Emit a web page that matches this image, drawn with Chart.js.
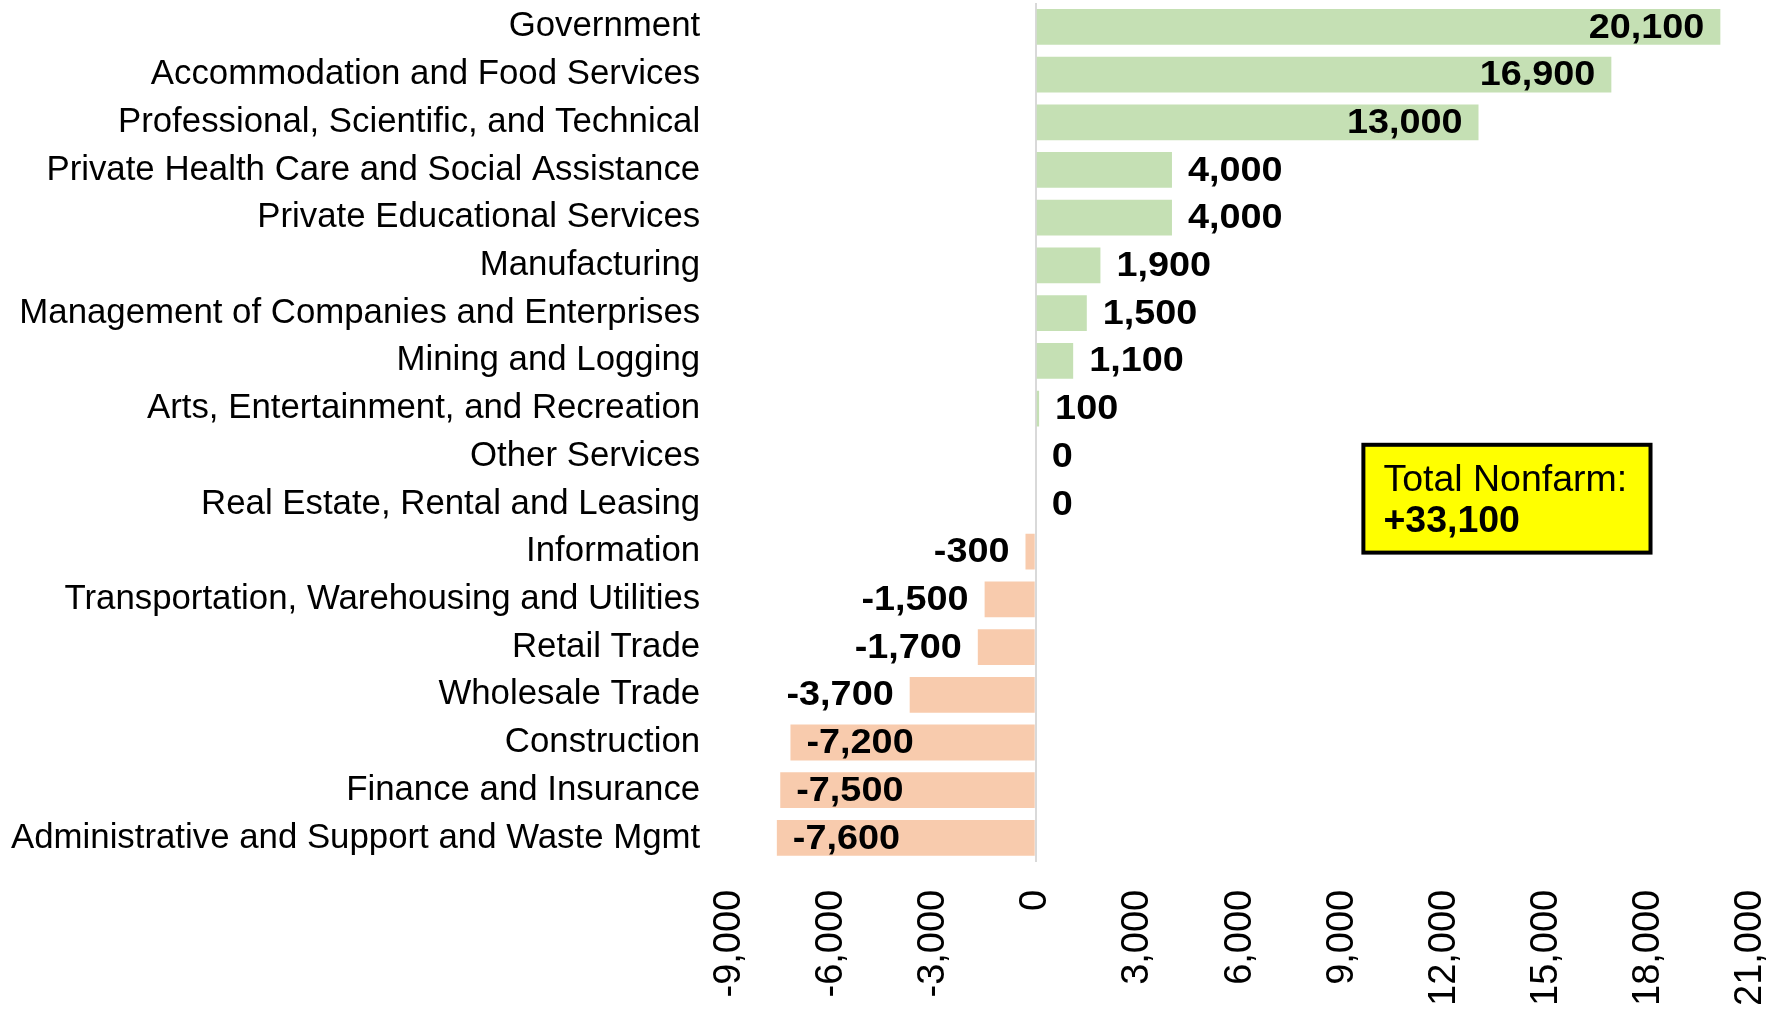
<!DOCTYPE html>
<html>
<head>
<meta charset="utf-8">
<script src="https://cdn.jsdelivr.net/npm/chart.js@4.4.1/dist/chart.umd.min.js"></script>
<style>
  html, body { margin: 0; padding: 0; background: #fff; }
  #wrap { width: 1781px; height: 1016px; }
</style>
</head>
<body>
<div id="wrap"><canvas id="jobsChart" width="1781" height="1016"></canvas></div>
<script>
// Data
const industries = [
    'Government',
    'Accommodation and Food Services',
    'Professional, Scientific, and Technical',
    'Private Health Care and Social Assistance',
    'Private Educational Services',
    'Manufacturing',
    'Management of Companies and Enterprises',
    'Mining and Logging',
    'Arts, Entertainment, and Recreation',
    'Other Services',
    'Real Estate, Rental and Leasing',
    'Information',
    'Transportation, Warehousing and Utilities',
    'Retail Trade',
    'Wholesale Trade',
    'Construction',
    'Finance and Insurance',
    'Administrative and Support and Waste Mgmt'
];
const jobChange = [20100, 16900, 13000, 4000, 4000, 1900, 1500, 1100, 100, 0, 0,
    -300, -1500, -1700, -3700, -7200, -7500, -7600];
const xTicks = [-9000, -6000, -3000, 0, 3000, 6000, 9000, 12000, 15000, 18000, 21000];
const totalLabel = ['Total Nonfarm:', '+33,100'];

const FONT = "'Liberation Sans', Arial, sans-serif";
const fmt = v => v.toLocaleString('en-US');

// value labels at bar ends, inside only when the bar is long enough
const barLabels = {
    id: 'barLabels',
    afterDatasetsDraw(chart) {
        const ctx = chart.ctx;
        const meta = chart.getDatasetMeta(0);
        const stretch = 1.08;
        const pad = 16;
        ctx.save();
        ctx.font = 'bold 35px ' + FONT;
        ctx.fillStyle = '#000';
        ctx.textBaseline = 'middle';
        meta.data.forEach((bar, i) => {
            const v = jobChange[i];
            const txt = fmt(v);
            const w = ctx.measureText(txt).width * stretch;
            const len = Math.abs(bar.x - bar.base);
            const inside = len >= w + 4 * pad;
            let left;
            if (v >= 0) {
                left = inside ? bar.x - pad - w : bar.x + pad;
            } else {
                left = inside ? bar.x + pad : bar.x - pad - w;
            }
            ctx.save();
            ctx.translate(left, bar.y + 1);
            ctx.scale(stretch, 1);
            ctx.textAlign = 'left';
            ctx.fillText(txt, 0, 0);
            ctx.restore();
        });
        ctx.restore();
    }
};

// yellow total box
const totalBox = {
    id: 'totalBox',
    afterDraw(chart) {
        const ctx = chart.ctx;
        const xs = chart.scales.x, ys = chart.scales.y;
        const x0 = xs.getPixelForValue(9620), x1 = xs.getPixelForValue(18050);
        const y0 = ys.getPixelForValue(8.76), y1 = ys.getPixelForValue(11.02);
        ctx.save();
        ctx.fillStyle = '#FFFF00';
        ctx.fillRect(x0, y0, x1 - x0, y1 - y0);
        ctx.lineWidth = 4;
        ctx.strokeStyle = '#000';
        ctx.strokeRect(x0, y0, x1 - x0, y1 - y0);
        ctx.fillStyle = '#000';
        ctx.textBaseline = 'alphabetic';
        ctx.font = '37.5px ' + FONT;
        ctx.fillText(totalLabel[0], x0 + 20, y0 + 46);
        ctx.font = 'bold 37.5px ' + FONT;
        ctx.fillText(totalLabel[1], x0 + 20, y0 + 87);
        ctx.restore();
    }
};

new Chart(document.getElementById('jobsChart'), {
    type: 'bar',
    data: {
        labels: industries,
        datasets: [{
            data: jobChange,
            backgroundColor: jobChange.map(v => v >= 0 ? '#C5E0B4' : '#F8CBAD'),
            borderWidth: 0,
            categoryPercentage: 1,
            barPercentage: 0.75
        }]
    },
    options: {
        indexAxis: 'y',
        responsive: false,
        devicePixelRatio: 1,
        animation: false,
        layout: { padding: { left: 11, right: 30, top: 3, bottom: 10 } },
        plugins: {
            legend: { display: false },
            tooltip: { enabled: false }
        },
        scales: {
            x: {
                min: -9000,
                max: 21000,
                afterBuildTicks: axis => { axis.ticks = xTicks.map(v => ({ value: v })); },
                afterFit: axis => { axis.paddingLeft = 0; axis.paddingRight = 0; },
                grid: {
                    drawTicks: true,
                    tickLength: 28,
                    tickColor: 'rgba(0,0,0,0)',
                    color: c => c.tick && c.tick.value === 0 ? '#D9D9D9' : 'rgba(0,0,0,0)',
                    lineWidth: 2
                },
                border: { display: false },
                ticks: {
                    color: '#000',
                    font: { family: FONT, size: 38 },
                    minRotation: 90,
                    maxRotation: 90,
                    padding: 0,
                    callback: v => fmt(v)
                }
            },
            y: {
                afterFit: axis => { axis.paddingTop = 0; axis.paddingBottom = 0; },
                grid: { display: false, drawTicks: true, tickLength: 29 },
                border: { display: false },
                ticks: {
                    color: '#000',
                    font: { family: FONT, size: 34.8 },
                    padding: 0,
                    autoSkip: false
                }
            }
        }
    },
    plugins: [barLabels, totalBox]
});
</script>
</body>
</html>
